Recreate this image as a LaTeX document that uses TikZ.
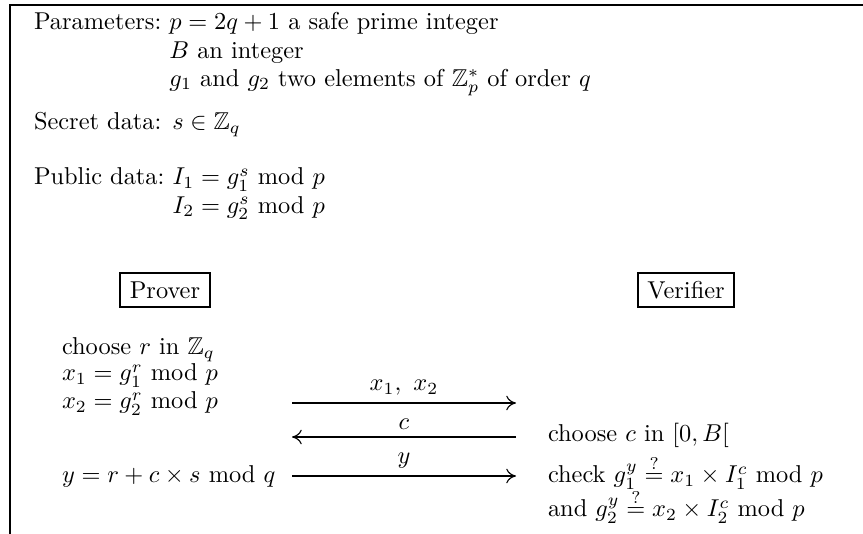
\documentclass[tikz,border=0pt]{standalone}
\usepackage{amsmath,amssymb}
\usetikzlibrary{arrows.meta}
\begin{document}
\begin{tikzpicture}[x=0.41pt,y=-0.41pt,
  txt/.style={anchor=base west,inner sep=0pt,outer sep=0pt},
  role/.style={draw,line width=0.8pt,inner xsep=4pt,inner ysep=3.5pt,anchor=center},
  frame/.style={line width=1.1pt},
  msg/.style={line width=0.45pt,-{Computer Modern Rightarrow[length=4pt,width=6pt]}},
  lbl/.style={anchor=base,inner sep=0pt}]
\useasboundingbox (0,0) rectangle (863,534);
\draw[frame] (10,534) -- (10,5) -- (863,5);
% parameters
\node[txt] (par) at (34,30) {Parameters:};
\node[txt,xshift=3.33pt] (p1) at (par.base east) {$p=2q+1$ a safe prime integer};
\node[txt,yshift=-11.5pt] (p2) at (p1.base west) {$B$ an integer};
\node[txt,yshift=-11.5pt] (p3) at (p2.base west) {$g_1$ and $g_2$ two elements of $\mathbb{Z}_p^*$ of order $q$};
\node[txt] (sec) at (34,130) {Secret data: $s\in\mathbb{Z}_q$};
\node[txt] (pub) at (34,185) {Public data:};
\node[txt,xshift=3.33pt] (i1) at (pub.base east) {$I_1=g_1^s\ \mathrm{mod}\ p$};
\node[txt,yshift=-11.5pt] (i2) at (i1.base west) {$I_2=g_2^s\ \mathrm{mod}\ p$};
% roles
\node[role] (prover) at (165,290) {Prover};
\node[role] (verifier) at (686,290) {Verifier};
% prover side
\node[txt] (cr) at (62,355) {choose $r$ in $\mathbb{Z}_q$};
\node[txt] (x1) at (62,381) {$x_1=g_1^r\ \mathrm{mod}\ p$};
\node[txt] (x2) at (62,409) {$x_2=g_2^r\ \mathrm{mod}\ p$};
\node[txt] (yy) at (62,483) {$y=r+c\times s\ \mathrm{mod}\ q$};
% verifier side
\node[txt] (cc) at (548,442) {choose $c$ in $[0,B[$};
\node[txt] (ch1) at (548,483) {check $g_1^y\stackrel{?}{=}x_1\times I_1^c\ \mathrm{mod}\ p$};
\node[txt] (ch2) at (548,517) {and $g_2^y\stackrel{?}{=}x_2\times I_2^c\ \mathrm{mod}\ p$};
% messages
\coordinate (m1l) at (292,403); \coordinate (m1r) at (516,403);
\coordinate (m2l) at (292,437); \coordinate (m2r) at (516,437);
\coordinate (m3l) at (292,476); \coordinate (m3r) at (516,476);
\draw[msg] (m1l) -- node[lbl,above=3pt] (l1) {$x_1,\ x_2$} (m1r);
\draw[msg] (m2r) -- node[lbl,above=3pt] (l2) {$c$} (m2l);
\draw[msg] (m3l) -- node[lbl,above=3pt] (l3) {$y$} (m3r);
\end{tikzpicture}
\end{document}
